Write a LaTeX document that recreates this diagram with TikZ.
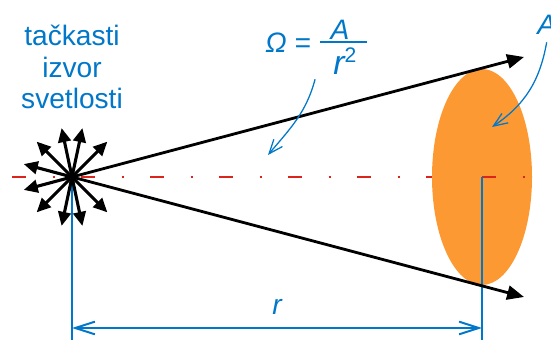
\documentclass[tikz,border=0pt]{standalone}
\usepackage{fontspec}
\setmainfont{Liberation Sans}
\usetikzlibrary{arrows.meta,positioning,shapes.geometric}
\definecolor{lightBlue}{RGB}{0,119,200}
\definecolor{lampOrange}{RGB}{253,153,51}
\definecolor{axisRed}{RGB}{218,37,29}

\begin{document}
\begin{tikzpicture}[
    lbl/.style={text=lightBlue, inner sep=0pt, font=\fontsize{20}{22.4}\selectfont},
    ital/.style={lbl, font=\fontsize{20}{22.4}\selectfont\itshape},
    spike/.style={-{Triangle[length=10pt,width=9pt]}, line width=2.2pt},
    ray/.style={-{Triangle[length=12pt,width=10pt]}, line width=2pt},
    axis/.style={axisRed, line width=2pt, dash pattern=on 10pt off 18.85pt on 1.4pt off 18.85pt},
    guide/.style={lightBlue, line width=0.9pt},
    dimarr/.style={{Straight Barb[length=14pt,width=9pt]}-{Straight Barb[length=14pt,width=9pt]},
                   lightBlue, line width=1.4pt},
    ptr/.style={-{Straight Barb[length=10pt,width=8pt]}, lightBlue, line width=0.9pt}
  ]
  \useasboundingbox (0,0) rectangle (13.775,8.5);
  % Points
  \coordinate (src) at (1.8,4.075);
  \coordinate (cen) at (12.05,4.075);
  \coordinate (axisStart) at (0.3,4.075);
  \coordinate (axisEnd) at (13.25,4.075);
  \coordinate (tipU) at (13.1,7.075);
  \coordinate (tipD) at (13.1,1.075);
  \coordinate (srcFoot) at (1.8,0);
  \coordinate (cenFoot) at (12.05,0);
  \coordinate (dimL) at (1.8,0.3);
  \coordinate (dimR) at (12.05,0.3);
  \coordinate (fracL) at (8.0,7.45);
  \coordinate (fracR) at (9.175,7.45);
  \coordinate (omegaTip) at (6.7,4.625);
  \coordinate (areaTip) at (12.3,5.325);
  % Axis (left part under the disk)
  \draw[axis] (axisStart) -- (cen);
  % Disk
  \node[ellipse, fill=lampOrange, minimum width=2.5cm, minimum height=5.4cm, inner sep=0pt] (disk) at (cen) {};
  \draw[axis] (cen) -- (axisEnd);
  % Guides and dimension
  \draw[guide] (src) -- (srcFoot);
  \draw[guide] (cen) -- (cenFoot);
  \draw[dimarr] (dimL) -- (dimR) node[ital, midway, above=9pt] (rLabel) {r};
  % Rays
  \draw[ray] (src) -- (tipU);
  \draw[ray] (src) -- (tipD);
  % Point source
  \foreach \a in {45,78,102,135,165,195,225,258,282,315}
    \draw[spike] (src) -- ++(\a:1.25);
  % Labels
  \node[lbl, align=center, anchor=north] (srcLabel) at (1.8,7.875) {tačkasti\\izvor\\svetlosti};
  \node[ital, anchor=base west] (omega) at (6.625,7.175) {Ω =};
  \draw[lightBlue, line width=1.4pt] (fracL) -- (fracR);
  \node[ital, anchor=base] (numA) at (8.5,7.5) {A};
  \node[ital, anchor=base, font=\fontsize{24}{26}\selectfont\itshape] (denR) at (8.63,6.625)
    {r\textsuperscript{\fontsize{15}{16}\selectfont\upshape 2}};
  \node[ital, anchor=base west] (areaLabel) at (13.425,7.625) {A};
  % Pointers
  \draw[ptr] ([xshift=-0.45cm,yshift=-0.1cm]denR.south west) to[out=-105,in=50] (omegaTip);
  \draw[ptr] ([yshift=-5pt]areaLabel.south) to[out=-100,in=34] (areaTip);
\end{tikzpicture}
\end{document}
